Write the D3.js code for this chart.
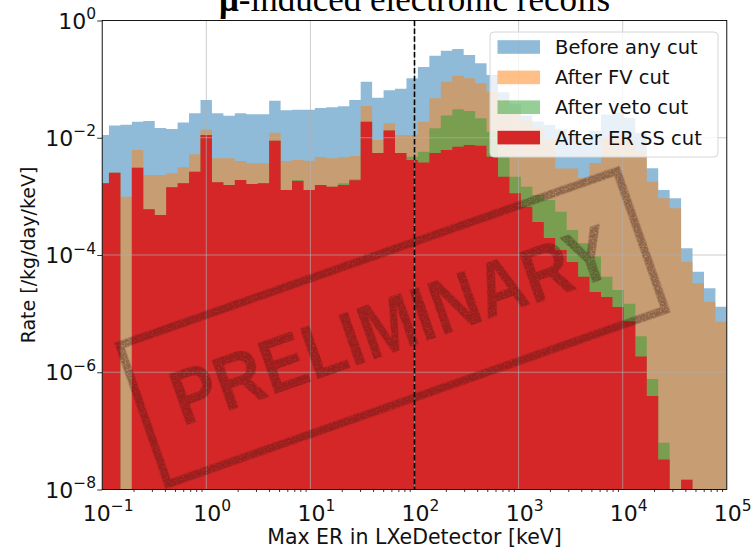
<!DOCTYPE html>
<html>
<head>
<meta charset="utf-8">
<script src="https://cdn.jsdelivr.net/npm/d3@7"></script>
<style>
  html, body { margin: 0; padding: 0; background: #fff; }
  svg { display: block; }
</style>
</head>
<body>
<svg id="chart" width="751" height="549"></svg>
<script>
// Histogram binning (log-spaced bins in keV)
const binLogLo = -1.045;
const binLogStep = 0.10992;
const nBins = 55;

// Rate per bin [/kg/day/keV] for each selection stage (0 = empty bin)
const beforeAnyCut = [
  1.11e-2, 1.62e-2, 1.67e-2, 1.88e-2, 1.93e-2, 1.47e-2, 1.41e-2, 1.82e-2, 2.61e-2, 4.41e-2,
  2.61e-2, 2.38e-2, 2.61e-2, 2.51e-2, 2.51e-2, 4.29e-2, 2.94e-2, 3.01e-2, 3.01e-2, 3.22e-2,
  3.31e-2, 3.44e-2, 4.41e-2, 9.04e-2, 4.81e-2, 6.45e-2, 6.84e-2, 1.03e-1, 1.61e-1, 2.50e-1,
  3.05e-1, 3.25e-1, 2.58e-1, 1.86e-1, 1.18e-1, 6.0e-2, 3.8e-2, 2.4e-2, 1.9e-2, 1.65e-2,
  1.4e-2, 1.1e-2, 9.0e-3, 1.3e-2, 2.5e-2, 2.7e-2, 2.2e-2, 1.2e-2, 3.01e-3, 1.29e-3,
  9.3e-4, 1.30e-4, 5.19e-5, 2.70e-5, 1.31e-5
];
const afterFV = [
  1.67e-3, 2.54e-3, 9.9e-4, 6.18e-3, 2.32e-3, 2.32e-3, 2.48e-3, 3.13e-3, 5.22e-3, 1.38e-2,
  4.47e-3, 4.47e-3, 4.01e-3, 3.67e-3, 3.67e-3, 1.22e-2, 4.01e-3, 4.18e-3, 4.06e-3, 4.70e-3,
  4.47e-3, 4.64e-3, 4.89e-3, 3.48e-2, 9.16e-3, 1.77e-2, 1.11e-2, 1.11e-2, 1.88e-2, 4.71e-2,
  9.04e-2, 1.14e-1, 1.03e-1, 8.49e-2, 6.10e-2, 4.41e-2, 2.97e-2, 2.01e-2, 1.47e-2, 9.16e-3,
  2.99e-3, 2.99e-3, 2.08e-3, 3.71e-3, 1.0e-2, 1.1e-2, 9.0e-3, 6.0e-3, 1.78e-3, 9.3e-4,
  6.26e-4, 7.69e-5, 3.29e-5, 1.60e-5, 7.29e-6
];
const afterVeto = [
  1.67e-3, 2.54e-3, 0, 3.08e-3, 6.02e-4, 4.82e-4, 1.43e-3, 1.67e-3, 2.64e-3, 1.11e-2,
  1.74e-3, 1.56e-3, 1.90e-3, 1.63e-3, 1.67e-3, 8.91e-3, 1.29e-3, 1.90e-3, 1.29e-3, 1.56e-3,
  1.46e-3, 1.67e-3, 1.96e-3, 1.88e-2, 5.50e-3, 1.33e-2, 5.50e-3, 4.75e-3, 5.78e-3, 1.45e-2,
  2.40e-2, 3.06e-2, 2.86e-2, 2.15e-2, 1.27e-2, 4.89e-3, 2.17e-3, 1.46e-3, 1.06e-3, 8.7e-4,
  5.48e-4, 2.67e-4, 1.58e-4, 9.4e-5, 4.27e-5, 2.53e-5, 1.48e-5, 4.11e-6, 7.67e-7, 6.27e-8,
  0, 1.46e-8, 0, 0, 0
];
const afterERSS = [
  1.67e-3, 2.54e-3, 0, 3.08e-3, 6.02e-4, 4.82e-4, 1.43e-3, 1.67e-3, 2.64e-3, 1.11e-2,
  1.74e-3, 1.56e-3, 1.90e-3, 1.63e-3, 1.67e-3, 8.91e-3, 1.29e-3, 1.83e-3, 1.29e-3, 1.56e-3,
  1.46e-3, 1.56e-3, 1.88e-3, 1.88e-2, 5.50e-3, 1.33e-2, 5.50e-3, 4.18e-3, 3.79e-3, 5.50e-3,
  6.18e-3, 7.04e-3, 7.53e-3, 7.32e-3, 4.75e-3, 2.17e-3, 1.13e-3, 6.67e-4, 3.66e-4, 1.95e-4,
  1.22e-4, 7.6e-5, 4.27e-5, 2.34e-5, 1.92e-5, 1.30e-5, 7.4e-6, 1.86e-6, 3.94e-7, 3.25e-8,
  0, 1.46e-8, 0, 0, 0
];

const seriesNames = ["Before any cut", "After FV cut", "After veto cut", "After ER SS cut"];
const seriesColors = ["#1f77b4", "#ff7f0e", "#2ca02c", "#d62728"];
const seriesAlpha = [0.5, 0.5, 0.5, 1.0];
const seriesValues = [beforeAnyCut, afterFV, afterVeto, afterERSS];

const xTickValues = [1e-1, 1e0, 1e1, 1e2, 1e3, 1e4, 1e5];
const yTickValues = [1e0, 1e-2, 1e-4, 1e-6, 1e-8];
const thresholdKeV = 100;

const titleText = ["μ", "-induced electronic recoils"];
const xLabel = "Max ER in LXeDetector [keV]";
const yLabel = "Rate [/kg/day/keV]";
const stampText = "PRELIMINARY";

// ---- layout ----
const W = 751, H = 549;
const plot = { left: 102.2, right: 726.8, top: 20.5, bottom: 489.5 };

const svg = d3.select("#chart");
const x = d3.scaleLog().domain([1e-1, 1e5]).range([plot.left, plot.right]);
const y = d3.scaleLog().domain([1e-8, 1e0]).range([plot.bottom, plot.top]);

const edges = d3.range(nBins + 1).map(k => Math.pow(10, binLogLo + k * binLogStep));

const defs = svg.append("defs");
defs.append("clipPath").attr("id", "plotClip")
  .append("rect")
  .attr("x", plot.left).attr("y", plot.top)
  .attr("width", plot.right - plot.left).attr("height", plot.bottom - plot.top);

// grainy ink texture for the stamp
const grunge = defs.append("filter").attr("id", "grunge")
  .attr("x", "-10%").attr("y", "-10%").attr("width", "120%").attr("height", "120%");
grunge.append("feTurbulence").attr("type", "fractalNoise")
  .attr("baseFrequency", "0.8").attr("numOctaves", 2).attr("seed", 7).attr("result", "noise");
grunge.append("feColorMatrix").attr("in", "noise").attr("type", "matrix")
  .attr("values", "0 0 0 0 0  0 0 0 0 0  0 0 0 0 0  3.5 0 0 0 -0.75").attr("result", "mask");
grunge.append("feComposite").attr("in", "SourceGraphic").attr("in2", "mask").attr("operator", "in");

svg.append("rect").attr("width", W).attr("height", H).attr("fill", "#fff");

// ---- histograms (overlaid step areas) ----
const bars = svg.append("g").attr("clip-path", "url(#plotClip)");
const floorY = plot.bottom + 5;
function stepPath(values) {
  let d = `M${x(edges[0])},${floorY}`;
  values.forEach((v, i) => {
    const yy = v > 0 ? y(v) : floorY;
    d += `L${x(edges[i])},${yy}L${x(edges[i + 1])},${yy}`;
  });
  d += `L${x(edges[nBins])},${floorY}Z`;
  return d;
}
seriesValues.forEach((vals, s) => {
  bars.append("path")
    .attr("d", stepPath(vals))
    .attr("fill", seriesColors[s])
    .attr("fill-opacity", seriesAlpha[s])
    .attr("stroke", "none");
});

// ---- grid ----
const grid = svg.append("g").attr("clip-path", "url(#plotClip)")
  .attr("stroke", "#b0b0b0").attr("stroke-width", 0.8).attr("stroke-opacity", 0.8);
xTickValues.forEach(t => {
  grid.append("line").attr("x1", x(t)).attr("x2", x(t)).attr("y1", plot.top).attr("y2", plot.bottom);
});
yTickValues.forEach(t => {
  grid.append("line").attr("y1", y(t)).attr("y2", y(t)).attr("x1", plot.left).attr("x2", plot.right);
});

// ---- 100 keV threshold ----
svg.append("line")
  .attr("x1", x(thresholdKeV)).attr("x2", x(thresholdKeV))
  .attr("y1", plot.top).attr("y2", plot.bottom)
  .attr("stroke", "#000").attr("stroke-width", 1.6).attr("stroke-dasharray", "5.5,2.4");

// ---- PRELIMINARY stamp ----
const stamp = svg.append("g")
  .attr("transform", "translate(392.5,327.5) rotate(-19.3)")
  .attr("filter", "url(#grunge)")
  .attr("opacity", 0.42);
stamp.append("rect")
  .attr("x", -263.5).attr("y", -73.5).attr("width", 527).attr("height", 147)
  .attr("fill", "none").attr("stroke", "#3a1410").attr("stroke-width", 8);
stamp.append("text")
  .attr("x", 0).attr("y", 24)
  .attr("text-anchor", "middle")
  .attr("font-family", "Liberation Sans, Arial, sans-serif")
  .attr("font-weight", "bold")
  .attr("font-size", 78)
  .attr("textLength", 462).attr("lengthAdjust", "spacingAndGlyphs")
  .attr("fill", "#3a1410")
  .text(stampText);

// ---- axes ----
const axisFont = "DejaVu Sans, sans-serif";
const xAxis = d3.axisBottom(x).tickValues(xTickValues).tickSize(5).tickFormat("");
const xMinor = [];
for (let e = -1; e < 5; e++) for (let m = 2; m <= 9; m++) xMinor.push(m * Math.pow(10, e));
const gx = svg.append("g").attr("transform", `translate(0,${plot.bottom})`);
gx.call(xAxis);
gx.call(d3.axisBottom(x).tickValues(xMinor).tickSize(2.5).tickFormat(""));
gx.selectAll(".domain").remove();
gx.selectAll("line").attr("stroke", "#000").attr("stroke-width", 0.8);

const gy = svg.append("g").attr("transform", `translate(${plot.left},0)`);
gy.call(d3.axisLeft(y).tickValues(yTickValues).tickSize(5).tickFormat(""));
gy.selectAll(".domain").remove();
gy.selectAll("line").attr("stroke", "#000").attr("stroke-width", 0.8);

// spines
svg.append("rect")
  .attr("x", plot.left).attr("y", plot.top)
  .attr("width", plot.right - plot.left).attr("height", plot.bottom - plot.top)
  .attr("fill", "none").attr("stroke", "#000").attr("stroke-width", 0.9);

function expLabel(g, t, xx, yy, anchor) {
  const e = Math.round(Math.log10(t));
  const txt = g.append("text")
    .attr("x", xx).attr("y", yy)
    .attr("text-anchor", anchor)
    .attr("font-family", axisFont).attr("font-size", 22).attr("fill", "#111");
  txt.append("tspan").text("10");
  txt.append("tspan").attr("dy", -9.5).attr("font-size", 15.5)
    .text(e < 0 ? "\u2212" + Math.abs(e) : String(e));
}
const labels = svg.append("g");
xTickValues.forEach(t => expLabel(labels, t, x(t) + 6, plot.bottom + 31, "middle"));
yTickValues.forEach(t => expLabel(labels, t, plot.left - 6, y(t) + 8, "end"));

svg.append("text")
  .attr("x", (plot.left + plot.right) / 2).attr("y", 544)
  .attr("text-anchor", "middle")
  .attr("font-family", axisFont).attr("font-size", 20.5).attr("fill", "#111")
  .text(xLabel);

svg.append("text")
  .attr("transform", `translate(35,${(plot.top + plot.bottom) / 2}) rotate(-90)`)
  .attr("text-anchor", "middle")
  .attr("font-family", axisFont).attr("font-size", 19).attr("fill", "#111")
  .text(yLabel);

// ---- title ----
const title = svg.append("text")
  .attr("x", (plot.left + plot.right) / 2).attr("y", 11)
  .attr("text-anchor", "middle")
  .attr("font-family", "Liberation Serif, Times New Roman, serif")
  .attr("font-size", 35).attr("fill", "#000");
title.append("tspan").attr("font-weight", "bold").text(titleText[0]);
title.append("tspan").text(titleText[1]);

// ---- legend ----
const legend = svg.append("g");
legend.append("rect")
  .attr("x", 490).attr("y", 32).attr("width", 228).attr("height", 125)
  .attr("rx", 4).attr("fill", "#fff").attr("fill-opacity", 0.8)
  .attr("stroke", "#d6d6d6").attr("stroke-width", 1);
const rowY = [47, 77.4, 107.2, 137.6];
seriesNames.forEach((name, i) => {
  legend.append("rect")
    .attr("x", 497.5).attr("y", rowY[i] - 6.8).attr("width", 42.5).attr("height", 13.6)
    .attr("fill", seriesColors[i]).attr("fill-opacity", seriesAlpha[i]);
  legend.append("text")
    .attr("x", 555).attr("y", rowY[i] + 7)
    .attr("font-family", axisFont).attr("font-size", 19.5).attr("fill", "#111")
    .text(name);
});
</script>
</body>
</html>
